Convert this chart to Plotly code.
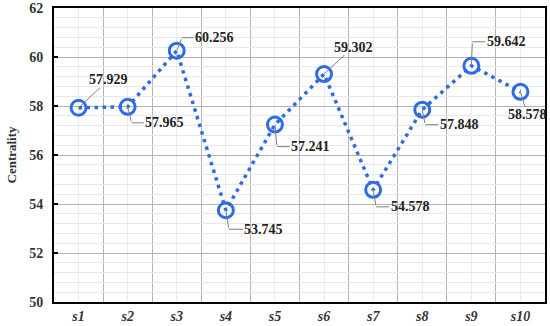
import plotly.graph_objects as go

categories = ["s1", "s2", "s3", "s4", "s5", "s6", "s7", "s8", "s9", "s10"]
values = [57.929, 57.965, 60.256, 53.745, 57.241, 59.302, 54.578, 57.848, 59.642, 58.578]
y_ticks = [50, 52, 54, 56, 58, 60, 62]

# label placement: (kind, corner_dx, corner_dy, text_dx, text_dy) in pixels
label_layout = [
    ("diag", 0, 0, 30, -28),
    ("elbow", 4, 16, 33, 0),
    ("elbow", 5, -13, 33, 0),
    ("elbow", 3, 19, 35, 0),
    ("elbow", 2, 22, 34, 0),
    ("diag", 0, 0, 29, -27),
    ("elbow", 3, 17, 34, 0),
    ("elbow", 3, 15, 34, 0),
    ("elbow", 1, -24, 34, 0),
    ("diag", 0, 0, 7, 23),
]

BLUE = "#2e6be6"
SERIF = "Liberation Serif, Times New Roman, serif"
xs = list(range(1, len(categories) + 1))

fig = go.Figure()
fig.add_trace(go.Scatter(
    x=xs, y=values, mode="lines+markers",
    line=dict(color=BLUE, width=3.5, dash="3.5px,4.5px"),
    marker=dict(symbol="circle-open", size=15, color=BLUE, line=dict(width=3, color=BLUE)),
    showlegend=False, hoverinfo="skip",
))

annotations = []
lab_font = dict(family=SERIF, size=14, color="#222222")
for x, v, (kind, cdx, cdy, tdx, tdy) in zip(xs, values, label_layout):
    txt = f"{v:.3f}"
    if kind == "diag":
        annotations.append(dict(
            x=x, y=v, xref="x", yref="y", text=f"<b>{txt}</b>", font=lab_font,
            showarrow=True, arrowhead=0, arrowwidth=1, arrowcolor="#808080",
            ax=tdx, ay=tdy, standoff=0, borderpad=0,
        ))
    else:
        annotations.append(dict(
            x=x, y=v, xref="x", yref="y", text="",
            showarrow=True, arrowhead=0, arrowwidth=1, arrowcolor="#808080",
            ax=cdx, ay=cdy, standoff=0,
        ))
        annotations.append(dict(
            x=x, y=v, xref="x", yref="y", text=f"<b>{txt}</b>", font=lab_font,
            xshift=cdx, yshift=-cdy,
            showarrow=True, arrowhead=0, arrowwidth=1, arrowcolor="#808080",
            ax=tdx, ay=tdy, standoff=0, borderpad=1,
        ))

fig.update_layout(
    width=550, height=326,
    margin=dict(l=54, r=5, t=8, b=24),
    paper_bgcolor="white", plot_bgcolor="white",
    annotations=annotations,
    xaxis=dict(
        automargin=False,
        range=[0.5, len(categories) + 0.5],
        tickmode="array", tickvals=xs,
        ticktext=[f"<b><i>{c}</i></b>" for c in categories],
        tickfont=dict(family=SERIF, size=14, color="#333333"),
        showgrid=True, gridcolor="#ececec", gridwidth=1,
        minor=dict(tickmode="array", tickvals=[i + 0.5 for i in range(1, len(categories))],
                   showgrid=True, gridcolor="#b4b4b4", gridwidth=1, ticks=""),
        showline=True, linecolor="black", linewidth=2, mirror=True,
        ticks="", zeroline=False, ticklabelstandoff=0,
    ),
    yaxis=dict(
        automargin=False,
        range=[50, 62], tickmode="array", tickvals=y_ticks,
        ticktext=[f"<b>{t}</b>" for t in y_ticks],
        tickfont=dict(family=SERIF, size=14, color="#333333"),
        showgrid=True, gridcolor="#b4b4b4", gridwidth=1,
        minor=dict(dtick=0.4, showgrid=True, gridcolor="#e8e8e8", gridwidth=1, ticks=""),
        showline=True, linecolor="black", linewidth=2, mirror=True,
        ticks="inside", ticklen=4, tickcolor="black", tickwidth=1.5,
        zeroline=False, ticklabelstandoff=6,
        title=dict(text="<b>Centrality</b>", font=dict(family=SERIF, size=13, color="#333333"),
                   standoff=10),
    ),
)

fig.write_html(
    "out.html",
    config={"displayModeBar": False},
    post_script="document.body.style.margin='0';document.body.style.padding='0';",
)
